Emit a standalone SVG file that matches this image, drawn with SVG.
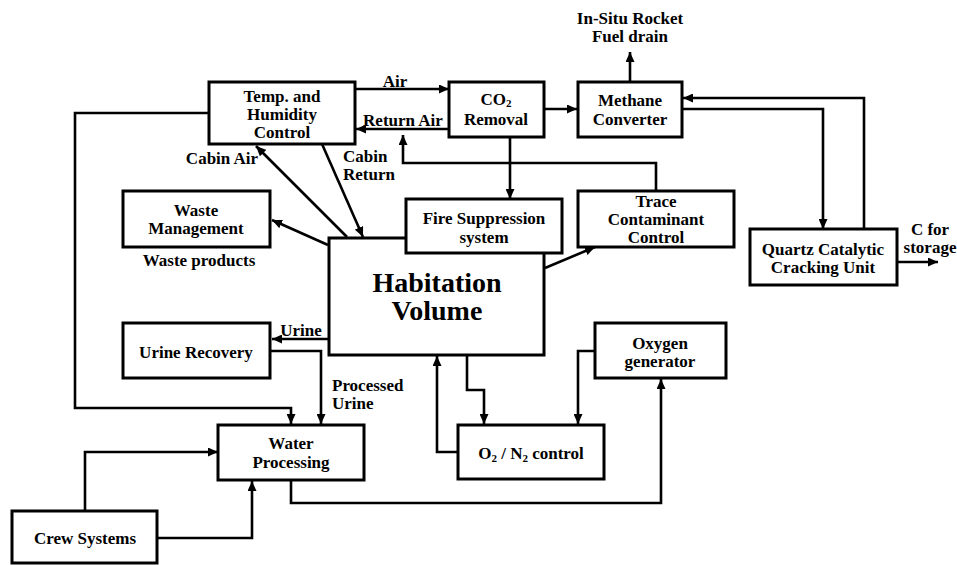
<svg xmlns="http://www.w3.org/2000/svg" width="957" height="565" viewBox="0 0 957 565">
<style>
.box{fill:#fff;stroke:#000;stroke-width:3}
.c{fill:none;stroke:#000;stroke-width:2.6;marker-end:url(#ah)}
text{font-family:"Liberation Serif","Times New Roman",serif;font-weight:bold;font-size:17px;fill:#000}
.m{text-anchor:middle}
.big{font-size:28px}
.sub{font-size:11px}
</style>
<defs>
<marker id="ah" markerUnits="userSpaceOnUse" markerWidth="10" markerHeight="9" refX="10" refY="4.5" orient="auto">
<path d="M0,0 L10,4.5 L0,9 z" fill="#000"/>
</marker>
</defs>
<rect width="957" height="565" fill="#fff"/>
<g id="connectors">
<path class="c" d="M355,89 H449"/>
<path class="c" d="M449,129 H356"/>
<path class="c" d="M656,191 V163 H403 V135"/>
<path class="c" d="M209,113 H75 V408 H291 V424"/>
<path class="c" d="M347,237 L256,146"/>
<path class="c" d="M322,144 L363,237"/>
<path class="c" d="M328,245 L272,220"/>
<path class="c" d="M544,109 H577"/>
<path class="c" d="M630,82 V52"/>
<path class="c" d="M682,109 H823 V229"/>
<path class="c" d="M864,229 V98 H683"/>
<path class="c" d="M510,137 V199"/>
<path class="c" d="M545,268 L595,247"/>
<path class="c" d="M897,262 H938"/>
<path class="c" d="M329,339 H272"/>
<path class="c" d="M270,351 H321 V424"/>
<path class="c" d="M85,511 V452 H218"/>
<path class="c" d="M157,538 H252 V481"/>
<path class="c" d="M291,480 V503 H661 V379"/>
<path class="c" d="M458,452 H437 V356"/>
<path class="c" d="M467,355 V390 H484 V424"/>
<path class="c" d="M595,351 H578 V424"/>
</g>
<g id="labels">
<text class="m" x="630" y="24">In-Situ Rocket</text>
<text class="m" x="630" y="42">Fuel drain</text>
<text class="m" x="395" y="87">Air</text>
<text class="m" x="403" y="126">Return Air</text>
<text class="m" x="222" y="164">Cabin Air</text>
<text x="343" y="162">Cabin</text>
<text x="343" y="180">Return</text>
<text class="m" x="199" y="266">Waste products</text>
<text class="m" x="301" y="336">Urine</text>
<text x="332" y="391">Processed</text>
<text x="332" y="409">Urine</text>
<text class="m" x="930" y="235">C for</text>
<text class="m" x="930" y="253">storage</text>
</g>
<g id="temp">
<rect class="box" x="209" y="82" width="146" height="62"/>
<text class="m" x="282" y="102">Temp. and</text>
<text class="m" x="282" y="120">Humidity</text>
<text class="m" x="282" y="138">Control</text>
</g>
<g id="co2">
<rect class="box" x="449" y="82" width="95" height="55"/>
<text class="m" x="496" y="105">CO<tspan class="sub" dy="2">2</tspan></text>
<text class="m" x="496" y="124.5">Removal</text>
</g>
<g id="methane">
<rect class="box" x="578" y="82" width="104" height="55"/>
<text class="m" x="630" y="106">Methane</text>
<text class="m" x="630" y="124.5">Converter</text>
</g>
<g id="waste">
<rect class="box" x="123" y="191" width="147" height="56"/>
<text class="m" x="196" y="216">Waste</text>
<text class="m" x="196" y="234">Management</text>
</g>
<g id="habitation">
<rect class="box" x="329" y="238" width="215" height="117"/>
<text class="m big" x="437" y="292">Habitation</text>
<text class="m big" x="437" y="320">Volume</text>
</g>
<g id="fire">
<rect class="box" x="406" y="199" width="156" height="54"/>
<text class="m" x="484" y="224">Fire Suppression</text>
<text class="m" x="484" y="242.5">system</text>
</g>
<g id="trace">
<rect class="box" x="578" y="191" width="156" height="56"/>
<text class="m" x="656" y="207">Trace</text>
<text class="m" x="656" y="225">Contaminant</text>
<text class="m" x="656" y="243">Control</text>
</g>
<g id="quartz">
<rect class="box" x="750" y="229" width="147" height="56"/>
<text class="m" x="823" y="255">Quartz Catalytic</text>
<text class="m" x="823" y="273">Cracking Unit</text>
</g>
<g id="urine">
<rect class="box" x="123" y="323" width="147" height="55"/>
<text class="m" x="196" y="358">Urine Recovery</text>
</g>
<g id="oxygen">
<rect class="box" x="595" y="323" width="131" height="55"/>
<text class="m" x="660" y="349">Oxygen</text>
<text class="m" x="660" y="367">generator</text>
</g>
<g id="water">
<rect class="box" x="218" y="425" width="146" height="55"/>
<text class="m" x="291" y="449">Water</text>
<text class="m" x="291" y="467.5">Processing</text>
</g>
<g id="o2n2">
<rect class="box" x="458" y="425" width="146" height="54"/>
<text class="m" x="531" y="459">O<tspan class="sub" dy="3">2</tspan><tspan dy="-3"> / N</tspan><tspan class="sub" dy="3">2</tspan><tspan dy="-3"> control</tspan></text>
</g>
<g id="crew">
<rect class="box" x="12" y="511" width="145" height="52"/>
<text class="m" x="85" y="543.5">Crew Systems</text>
</g>
</svg>
